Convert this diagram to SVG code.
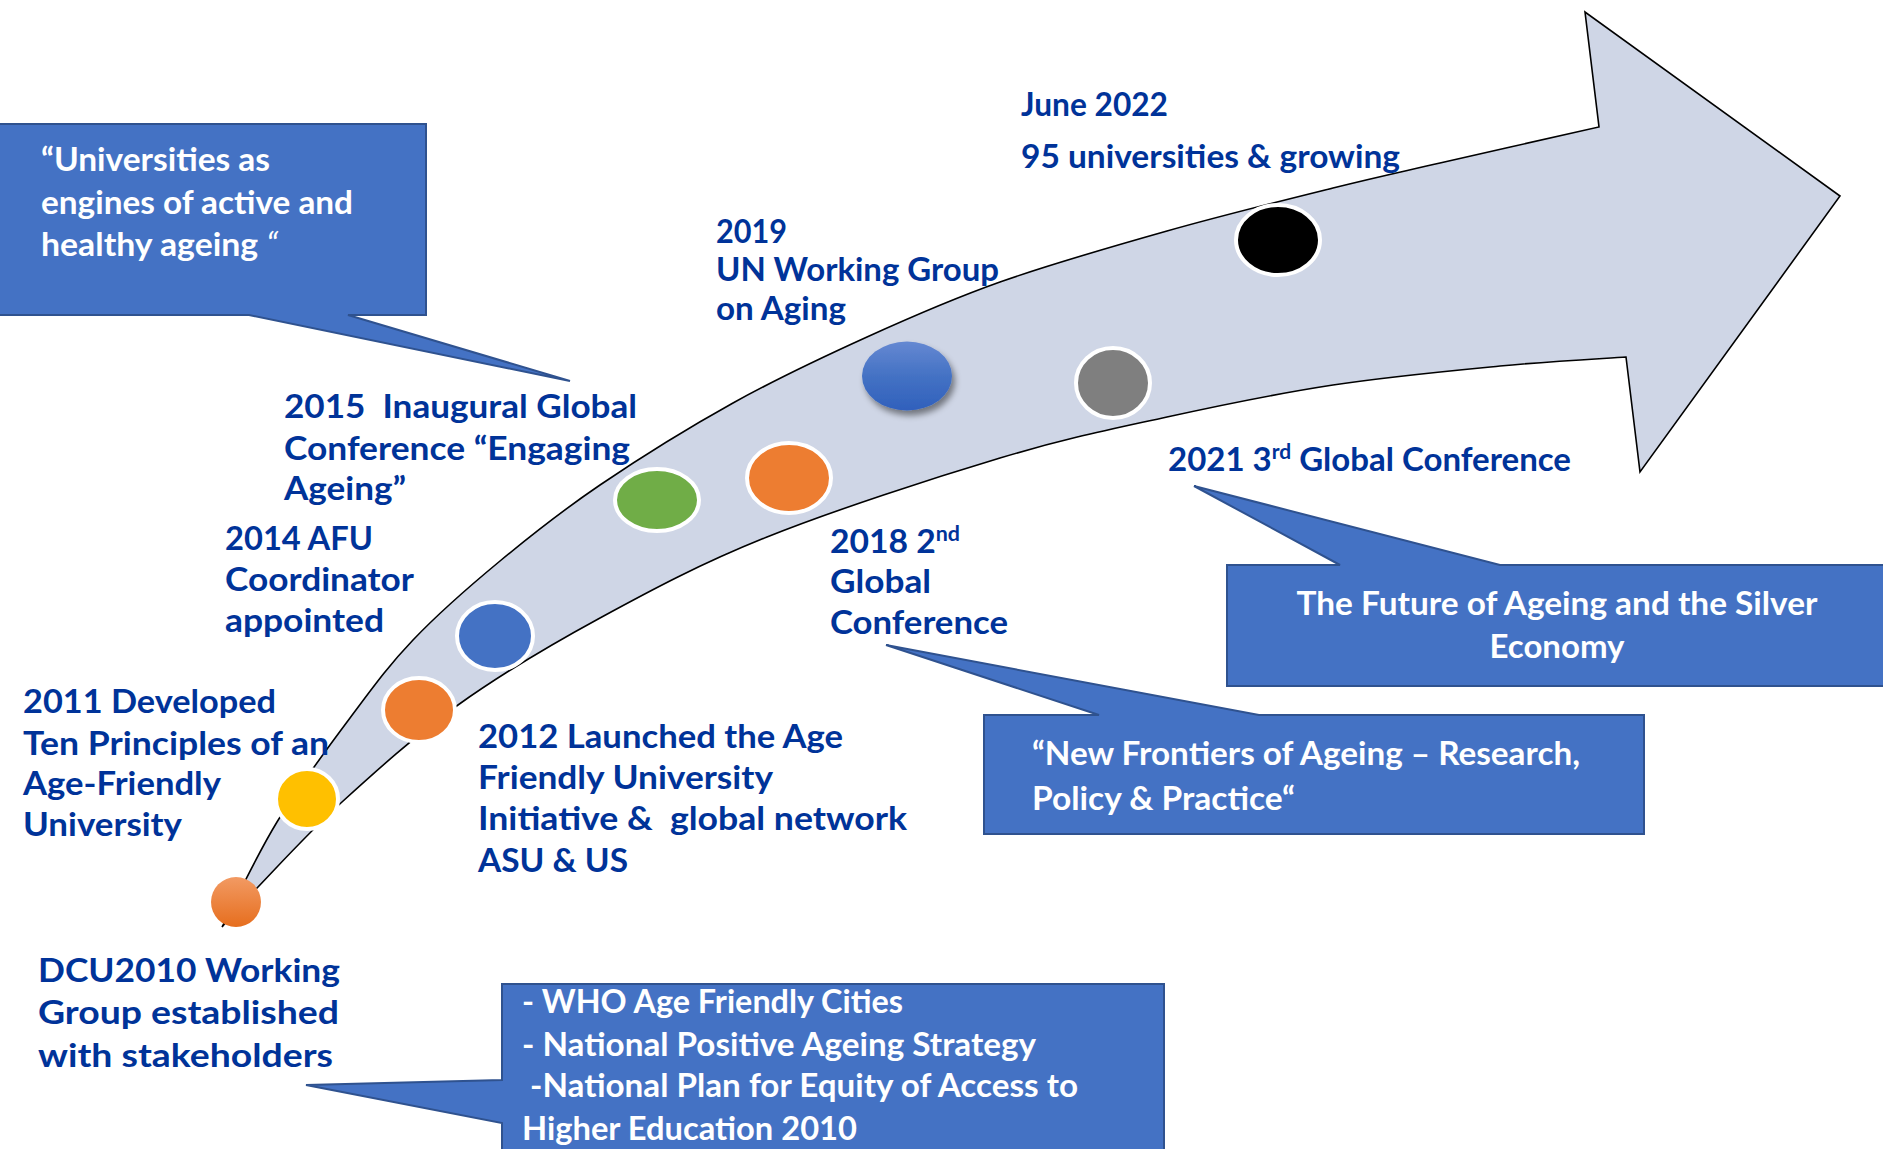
<svg xmlns="http://www.w3.org/2000/svg" width="1883" height="1149" viewBox="0 0 1883 1149">
<style>
.lbl{font-family:Lato,"Liberation Sans",sans-serif;font-weight:700;font-size:33px;fill:#003399}
.sup{font-size:21px}
.wt{fill:#ffffff}
.thin{font-weight:400;font-style:italic}
.callout{fill:#4472C4;stroke:#2F528F;stroke-width:2}
.dot{stroke:#ffffff;stroke-width:4}
</style>
<defs>
<linearGradient id="gOrange" x1="0" y1="0" x2="0" y2="1">
<stop offset="0" stop-color="#F29A63"/>
<stop offset="1" stop-color="#E66E1E"/>
</linearGradient>
<linearGradient id="gBlue" x1="0" y1="0" x2="0" y2="1">
<stop offset="0" stop-color="#6588D2"/>
<stop offset="0.5" stop-color="#4472C4"/>
<stop offset="1" stop-color="#3060BC"/>
</linearGradient>
<filter id="shadow" x="-30%" y="-30%" width="160%" height="170%">
<feDropShadow dx="3" dy="5" stdDeviation="3" flood-color="#000" flood-opacity="0.45"/>
</filter>
</defs>
<rect width="1883" height="1149" fill="#ffffff"/>

<g id="connectors">
<path id="timeline-arrow" fill="#CFD6E6" stroke="#000" stroke-width="1.6" stroke-linejoin="miter" d="M222,927 C231.2,909.5 255.7,856.8 277,822 C298.3,787.2 327.3,748.3 350,718 C372.7,687.7 388,666.2 413,640 C438,613.8 468.8,586.8 500,561 C531.2,535.2 561.2,511.3 600,485 C638.8,458.7 688.5,427.7 733,403 C777.5,378.3 822.5,357.2 867,337 C911.5,316.8 950,299.7 1000,282 C1050,264.3 1111.5,246.7 1167,231 C1222.5,215.3 1287.5,199.3 1333,188 C1378.5,176.7 1395.7,173.2 1440,163 C1484.3,152.8 1572.5,133 1599,127 L1585,12 L1840,196 L1640,472 L1626,357 C1605,358.5 1548.8,361.3 1500,366 C1451.2,370.7 1388.5,376.5 1333,385 C1277.5,393.5 1222.5,404.8 1167,417 C1111.5,429.2 1066.7,438 1000,458 C933.3,478 833.7,510.3 767,537 C700.3,563.7 651.5,590 600,618 C548.5,646 501,674.3 458,705 C415,735.7 375.3,771.7 342,802 C308.7,832.3 278,866.2 258,887 C238,907.8 228,920.3 222,927 Z"/>
</g>

<g id="callout-universities">
<path class="callout" d="M-3,124 H426 V315 H348 L570,381 L249,315 H-3 Z"/>
<text class="lbl wt" x="41" y="171" textLength="229" lengthAdjust="spacingAndGlyphs">“Universities as</text>
<text class="lbl wt" x="41" y="214" textLength="312" lengthAdjust="spacingAndGlyphs">engines of active and</text>
<text class="lbl wt" x="41" y="256" textLength="237" lengthAdjust="spacingAndGlyphs">healthy ageing <tspan class="thin">“</tspan></text>
</g>

<g id="callout-future">
<path class="callout" d="M1227,565 H1340 L1194,486 L1500,565 H1892 V686 H1227 Z"/>
<text class="lbl wt" x="1557" y="615" text-anchor="middle" textLength="521" lengthAdjust="spacingAndGlyphs">The Future of Ageing and the Silver</text>
<text class="lbl wt" x="1557" y="658" text-anchor="middle" textLength="135" lengthAdjust="spacingAndGlyphs">Economy</text>
</g>

<g id="callout-frontiers">
<path class="callout" d="M984,715 H1099 L886,645 L1259,715 H1644 V834 H984 Z"/>
<text class="lbl wt" x="1032" y="765" textLength="548" lengthAdjust="spacingAndGlyphs">“New Frontiers of Ageing – Research,</text>
<text class="lbl wt" x="1032" y="810" textLength="263" lengthAdjust="spacingAndGlyphs">Policy &amp; Practice“</text>
</g>

<g id="callout-who">
<path class="callout" d="M502,984 H1164 V1155 H502 V1123 L306,1085 L502,1080 Z"/>
<text class="lbl wt" x="522" y="1013" textLength="381" lengthAdjust="spacingAndGlyphs">- WHO Age Friendly Cities</text>
<text class="lbl wt" x="522" y="1056" textLength="514" lengthAdjust="spacingAndGlyphs">- National Positive Ageing Strategy</text>
<text class="lbl wt" x="530" y="1097" textLength="548" lengthAdjust="spacingAndGlyphs">-National Plan for Equity of Access to</text>
<text class="lbl wt" x="522" y="1140" textLength="335" lengthAdjust="spacingAndGlyphs">Higher Education 2010</text>
</g>

<g id="m2010">
<circle cx="236" cy="902" r="25" fill="url(#gOrange)"/>
<text class="lbl" x="38" y="982" textLength="302" lengthAdjust="spacingAndGlyphs">DCU2010 Working</text>
<text class="lbl" x="38" y="1024" textLength="301" lengthAdjust="spacingAndGlyphs">Group established</text>
<text class="lbl" x="38" y="1067" textLength="295" lengthAdjust="spacingAndGlyphs">with stakeholders</text>
</g>

<g id="m2011">
<ellipse class="dot" cx="307" cy="799" rx="31" ry="30" fill="#FFC000"/>
<text class="lbl" x="23" y="713" textLength="253" lengthAdjust="spacingAndGlyphs">2011 Developed</text>
<text class="lbl" x="23" y="755" textLength="306" lengthAdjust="spacingAndGlyphs">Ten Principles of an</text>
<text class="lbl" x="23" y="795" textLength="198" lengthAdjust="spacingAndGlyphs">Age-Friendly</text>
<text class="lbl" x="23" y="836" textLength="159" lengthAdjust="spacingAndGlyphs">University</text>
</g>

<g id="m2012">
<ellipse class="dot" cx="419" cy="710" rx="36" ry="32" fill="#ED7D31"/>
<text class="lbl" x="478" y="748" textLength="365" lengthAdjust="spacingAndGlyphs">2012 Launched the Age</text>
<text class="lbl" x="478" y="789" textLength="295" lengthAdjust="spacingAndGlyphs">Friendly University</text>
<text class="lbl" x="478" y="830" textLength="429" lengthAdjust="spacingAndGlyphs" xml:space="preserve">Initiative &amp;  global network</text>
<text class="lbl" x="478" y="872" textLength="150" lengthAdjust="spacingAndGlyphs">ASU &amp; US</text>
</g>

<g id="m2014">
<ellipse class="dot" cx="495" cy="636" rx="38" ry="34" fill="#4472C4"/>
<text class="lbl" x="225" y="550" textLength="148" lengthAdjust="spacingAndGlyphs">2014 AFU</text>
<text class="lbl" x="225" y="591" textLength="189" lengthAdjust="spacingAndGlyphs">Coordinator</text>
<text class="lbl" x="225" y="632" textLength="159" lengthAdjust="spacingAndGlyphs">appointed</text>
</g>

<g id="m2015">
<ellipse class="dot" cx="657" cy="500" rx="42" ry="31" fill="#70AD47"/>
<text class="lbl" x="284" y="418" textLength="353" lengthAdjust="spacingAndGlyphs" xml:space="preserve">2015  Inaugural Global</text>
<text class="lbl" x="284" y="460" textLength="346" lengthAdjust="spacingAndGlyphs">Conference “Engaging</text>
<text class="lbl" x="284" y="500" textLength="122" lengthAdjust="spacingAndGlyphs">Ageing”</text>
</g>

<g id="m2018">
<ellipse class="dot" cx="789" cy="478" rx="42" ry="35" fill="#ED7D31"/>
<text class="lbl" x="830" y="553" textLength="130" lengthAdjust="spacingAndGlyphs">2018 2<tspan class="sup" dy="-12">nd</tspan></text>
<text class="lbl" x="830" y="593" textLength="101" lengthAdjust="spacingAndGlyphs">Global</text>
<text class="lbl" x="830" y="634" textLength="178" lengthAdjust="spacingAndGlyphs">Conference</text>
</g>

<g id="m2019">
<ellipse cx="907" cy="376" rx="45" ry="34.5" fill="url(#gBlue)" filter="url(#shadow)"/>
<text class="lbl" x="716" y="243" textLength="71" lengthAdjust="spacingAndGlyphs">2019</text>
<text class="lbl" x="716" y="281" textLength="283" lengthAdjust="spacingAndGlyphs">UN Working Group</text>
<text class="lbl" x="716" y="320" textLength="130" lengthAdjust="spacingAndGlyphs">on Aging</text>
</g>

<g id="m2021">
<ellipse class="dot" cx="1113" cy="383" rx="37" ry="35" fill="#7F7F7F"/>
<text class="lbl" x="1168" y="471" textLength="403" lengthAdjust="spacingAndGlyphs">2021 3<tspan class="sup" dy="-12">rd</tspan><tspan dy="12"> Global Conference</tspan></text>
</g>

<g id="m2022">
<ellipse class="dot" cx="1278" cy="240" rx="42" ry="35" fill="#000000"/>
<text class="lbl" x="1021" y="116" textLength="147" lengthAdjust="spacingAndGlyphs">June 2022</text>
<text class="lbl" x="1021" y="168" textLength="379" lengthAdjust="spacingAndGlyphs">95 universities &amp; growing</text>
</g>
</svg>
